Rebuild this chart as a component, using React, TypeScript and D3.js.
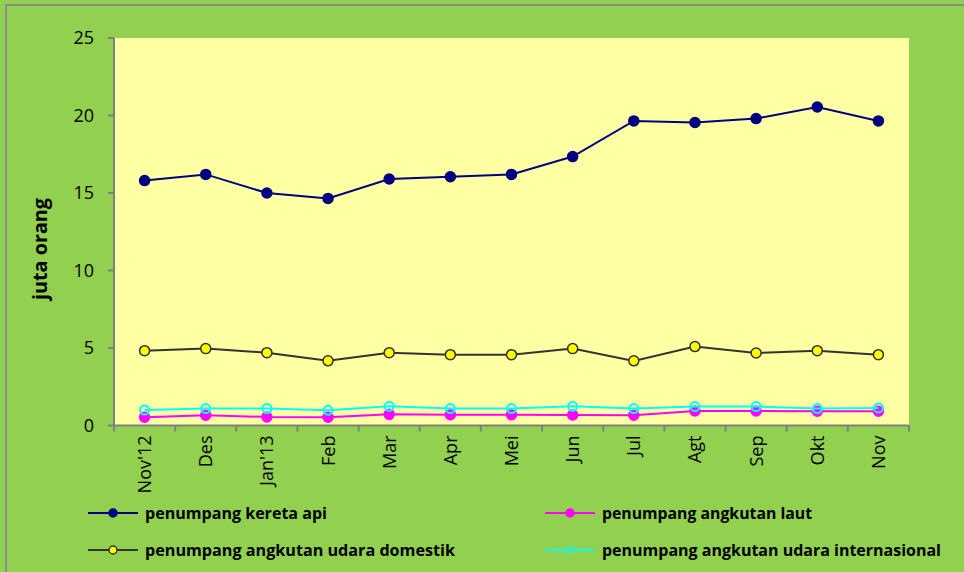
import React from "react";
import * as d3 from "d3";

const months = ["Nov'12", "Des", "Jan'13", "Feb", "Mar", "Apr", "Mei", "Jun", "Jul", "Agt", "Sep", "Okt", "Nov"];
const keretaApi = [15.8, 16.2, 15.0, 14.65, 15.9, 16.05, 16.2, 17.35, 19.65, 19.55, 19.8, 20.55, 19.65];
const udaraDomestik = [4.83, 4.96, 4.7, 4.17, 4.7, 4.57, 4.57, 4.96, 4.17, 5.09, 4.68, 4.83, 4.57];
const angkutanLaut = [0.53, 0.66, 0.55, 0.53, 0.72, 0.7, 0.7, 0.68, 0.66, 0.94, 0.94, 0.92, 0.92];
const udaraInternasional = [1.0, 1.09, 1.09, 0.98, 1.24, 1.09, 1.09, 1.24, 1.09, 1.22, 1.22, 1.09, 1.13];
const yTicks = [0, 5, 10, 15, 20, 25];

type Series = {
  name: string;
  values: number[];
  line: string;
  fill: string;
  stroke: string;
};

const series: Series[] = [
  { name: "penumpang kereta api", values: keretaApi, line: "#000080", fill: "#000080", stroke: "#000080" },
  { name: "penumpang angkutan laut", values: angkutanLaut, line: "#FF00FF", fill: "#FF00FF", stroke: "#FF00FF" },
  { name: "penumpang angkutan udara domestik", values: udaraDomestik, line: "#333333", fill: "#FFFF00", stroke: "#333333" },
  { name: "penumpang angkutan udara internasional", values: udaraInternasional, line: "#00FFFF", fill: "none", stroke: "#00FFFF" },
];

const W = 964;
const H = 572;
const plot = { left: 114, right: 909, top: 38, bottom: 425.5 };

export default function App() {
  const x = d3.scaleBand<string>().domain(months).range([plot.left, plot.right]);
  const y = d3.scaleLinear().domain([0, 25]).range([plot.bottom, plot.top]);
  const cx = (m: string) => (x(m) ?? 0) + x.bandwidth() / 2;
  const line = d3
    .line<number>()
    .x((_, i) => cx(months[i]))
    .y((v) => y(v));

  const boundaries = months.map((m) => x(m) ?? 0).concat([plot.right]);

  // draw order: background series first so the rail line sits on top
  const drawOrder = [series[2], series[1], series[3], series[0]];

  const legendPos = [
    { x: 88, y: 513, w: 182 },
    { x: 545, y: 513, w: 210 },
    { x: 88, y: 550, w: 310 },
    { x: 545, y: 550, w: 339 },
  ];

  return (
    <svg
      width={W}
      height={H}
      style={{ position: "absolute", left: 0, top: 0, display: "block" }}
      fontFamily="'Open Sans', sans-serif"
    >
      <rect x={0} y={0} width={W} height={H} fill="#92D050" />
      <rect x={6} y={5} width={W + 10} height={H + 10} fill="#92D050" stroke="#8C8C8C" strokeWidth={2} />
      <rect x={plot.left} y={plot.top} width={plot.right - plot.left} height={plot.bottom - plot.top} fill="#FFFFA3" />

      {/* y axis */}
      <line x1={plot.left} x2={plot.left} y1={plot.top} y2={plot.bottom} stroke="#808080" strokeWidth={2} />
      {yTicks.map((t) => (
        <g key={t}>
          <line x1={plot.left - 6} x2={plot.left} y1={y(t)} y2={y(t)} stroke="#808080" strokeWidth={2} />
          <text x={94} y={y(t)} dy="0.36em" textAnchor="end" fontSize={18} fill="#000">
            {t}
          </text>
        </g>
      ))}
      <text
        transform={`translate(40,249) rotate(-90)`}
        textAnchor="middle"
        dy="0.35em"
        fontSize={19}
        fontWeight="bold"
        fill="#000"
        textLength={102}
        lengthAdjust="spacingAndGlyphs"
      >
        juta orang
      </text>

      {/* x axis */}
      <line x1={plot.left - 1} x2={plot.right} y1={plot.bottom} y2={plot.bottom} stroke="#808080" strokeWidth={2} />
      {boundaries.map((b, i) => (
        <line key={i} x1={b} x2={b} y1={plot.bottom} y2={plot.bottom + 6} stroke="#808080" strokeWidth={2} />
      ))}
      {months.map((m) => (
        <text
          key={m}
          transform={`translate(${cx(m)},${plot.bottom + 10}) rotate(-90)`}
          textAnchor="end"
          dy="0.36em"
          fontSize={18}
          fill="#000"
        >
          {m}
        </text>
      ))}

      {/* series */}
      {drawOrder.map((s) => (
        <g key={s.name}>
          <path d={line(s.values) ?? ""} fill="none" stroke={s.line} strokeWidth={2} />
          {s.values.map((v, i) => (
            <circle
              key={i}
              cx={cx(months[i])}
              cy={y(v)}
              r={s.fill === "none" ? 4.5 : 5}
              fill={s.fill}
              stroke={s.stroke}
              strokeWidth={s.fill === "none" ? 2 : 1.5}
            />
          ))}
        </g>
      ))}

      {/* legend */}
      {series.map((s, i) => {
        const p = legendPos[i];
        return (
          <g key={s.name}>
            <line x1={p.x} x2={p.x + 50} y1={p.y} y2={p.y} stroke={s.line} strokeWidth={2} />
            <circle
              cx={p.x + 25}
              cy={p.y}
              r={s.fill === "none" ? 3 : 4}
              fill={s.fill === "none" ? "#92D050" : s.fill}
              stroke={s.stroke}
              strokeWidth={1.5}
            />
            <text
              x={p.x + 57}
              y={p.y}
              dy="0.35em"
              fontSize={16}
              fontWeight="bold"
              fill="#000"
              textLength={p.w}
              lengthAdjust="spacingAndGlyphs"
            >
              {s.name}
            </text>
          </g>
        );
      })}
    </svg>
  );
}
